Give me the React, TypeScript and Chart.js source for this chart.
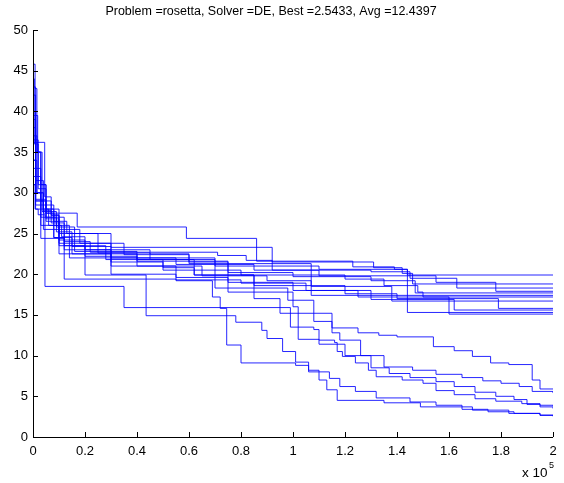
import React, { useEffect, useRef } from "react";
import { Chart, registerables } from "chart.js";

Chart.register(...registerables);

const TITLE = "Problem =rosetta, Solver =DE, Best =2.5433, Avg =12.4397";
const X_TICKS = [0, 0.2, 0.4, 0.6, 0.8, 1, 1.2, 1.4, 1.6, 1.8, 2];
const Y_TICKS = [0, 5, 10, 15, 20, 25, 30, 35, 40, 45, 50];
const X_EXPONENT = "5";

// Best-so-far value per run: [evaluations (x 1e5), objective]
const run01 = [[0, 44], [0.005, 36], [0.02, 31], [0.05, 28], [0.1, 27.5], [0.17, 25.8], [0.59, 24.4], [0.86, 21.6], [1.23, 20.9], [1.39, 20.6], [1.44, 19.9], [2, 19.9]];
const run02 = [[0, 40], [0.01, 32], [0.03, 28.5], [0.08, 26.5], [0.13, 25.0], [0.3, 23.3], [0.92, 21.5], [1.31, 20.8], [1.42, 20.1], [1.46, 18.8], [2, 18.8]];
const run03 = [[0, 37], [0.015, 30], [0.04, 27.8], [0.07, 26.3], [0.12, 24.0], [0.22, 22.7], [0.71, 22.3], [0.82, 21.7], [0.92, 20.5], [1.3, 20.3], [1.45, 19.5], [1.63, 18.3], [2, 18.3]];
const run04 = [[0, 45.8], [0.008, 42.8], [0.015, 35], [0.03, 31], [0.05, 27], [0.09, 25.2], [0.15, 23.4], [0.3, 22.0], [0.55, 21.2], [0.85, 20.5], [1.1, 19.8], [1.55, 19.0], [1.78, 17.9], [2, 17.9]];
const run05 = [[0, 30], [0.01, 28], [0.06, 26], [0.11, 24.6], [0.2, 23.0], [0.45, 22.5], [0.6, 21.5], [0.75, 20.2], [1.0, 19.7], [1.3, 19.2], [1.47, 17.7], [2, 17.7]];
const run06 = [[0, 36.2], [0.045, 29.5], [0.07, 27.2], [0.1, 25.5], [0.18, 23.8], [0.35, 22.4], [0.6, 21.3], [1.07, 17.4], [2, 17.4]];
const run07 = [[0, 39], [0.01, 31.5], [0.04, 28], [0.08, 27], [0.12, 23.5], [0.28, 21.8], [0.5, 20.5], [0.8, 19.9], [1.2, 19.4], [1.35, 18.6], [1.48, 17.8], [1.5, 17.2], [2, 17.2]];
const run08 = [[0, 32], [0.01, 29], [0.05, 26.8], [0.1, 24.2], [0.2, 22.2], [0.4, 21.0], [0.65, 19.8], [0.9, 19.2], [1.07, 18.5], [1.38, 16.7], [2, 16.7]];
const run09 = [[0, 36.5], [0.02, 30.5], [0.05, 27.5], [0.1, 26.0], [0.14, 22.0], [0.3, 21.5], [0.5, 20.8], [0.62, 19.9], [0.85, 18.6], [1.2, 17.6], [1.4, 17.0], [1.79, 15.8], [2, 15.8]];
const run10 = [[0, 34], [0.015, 30], [0.04, 27.5], [0.08, 24.5], [0.12, 19.4], [0.55, 19.3], [0.8, 18.9], [1.05, 18.0], [1.3, 16.9], [1.62, 15.6], [2, 15.6]];
const run11 = [[0, 43], [0.01, 35], [0.03, 29], [0.07, 27.3], [0.1, 25.0], [0.25, 22.6], [0.45, 21.8], [0.7, 21.0], [1.1, 20.6], [1.44, 15.3], [2, 15.3]];
const run12 = [[0, 31], [0.01, 28.5], [0.03, 24.4], [0.12, 23.0], [0.3, 20.0], [0.55, 19.6], [0.75, 19.0], [1.0, 18.0], [1.25, 17.2], [1.6, 15.1], [2, 15.1]];
const run13 = [[0, 31], [0.008, 28], [0.02, 27.3], [0.046, 18.5], [0.35, 15.9], [0.99, 13.5], [1.08, 13.2], [1.1, 11.9], [1.16, 11.6], [1.17, 10.5], [1.19, 9.9], [1.24, 9.1], [1.29, 8.2], [1.32, 7.4], [1.42, 7.0], [1.5, 6.6], [1.55, 5.7], [1.62, 5.2], [1.7, 4.7], [1.78, 4.4], [1.88, 4.1], [1.95, 3.9], [2, 3.8]];
const run14 = [[0, 38], [0.01, 30], [0.03, 26], [0.1, 23.5], [0.2, 19.9], [0.435, 14.9], [0.78, 14.1], [0.88, 13.1], [0.9, 12.1], [0.96, 10.5], [1.01, 9.2], [1.06, 8.0], [1.14, 7.2], [1.18, 6.2], [1.24, 5.6], [1.32, 4.8], [1.45, 4.3], [1.55, 3.9], [1.65, 3.4], [1.75, 3.1], [1.85, 2.9], [1.95, 2.7], [2, 2.6]];
const run15 = [[0, 34], [0.01, 29], [0.04, 25.5], [0.1, 22.5], [0.3, 21.0], [0.55, 19.2], [0.69, 17.2], [0.72, 15.8], [0.745, 11.3], [0.8, 9.1], [1.01, 8.8], [1.06, 8.2], [1.1, 7.0], [1.13, 5.8], [1.17, 4.5], [1.35, 4.2], [1.49, 3.7], [1.69, 3.3], [1.83, 2.9], [1.95, 2.65], [2, 2.54]];
const run16 = [[0, 42], [0.01, 33], [0.03, 27], [0.08, 24.5], [0.15, 22.5], [0.4, 21.8], [0.62, 19.9], [0.85, 17.0], [0.95, 15.2], [1.15, 13.4], [1.25, 12.8], [1.33, 12.5], [1.4, 12.3], [1.54, 11.1], [1.62, 10.6], [1.69, 9.9], [1.76, 9.1], [1.83, 8.9], [1.92, 7.0], [1.95, 5.9], [2, 5.9]];
const run17 = [[0, 33], [0.01, 29.2], [0.05, 26.5], [0.1, 23.8], [0.3, 22.0], [0.7, 18.3], [0.98, 16.8], [1.08, 14.2], [1.15, 12.8], [1.18, 11.9], [1.26, 10.0], [1.35, 8.6], [1.46, 8.2], [1.55, 7.7], [1.65, 7.3], [1.73, 6.9], [1.8, 6.6], [1.87, 6.2], [1.92, 5.6], [2, 5.4]];
const run18 = [[0, 39.5], [0.018, 35], [0.035, 27.7], [0.09, 25.8], [0.16, 22.8], [0.4, 21.6], [0.75, 17.8], [1.0, 16.0], [1.02, 12.0], [1.1, 11.4], [1.2, 10.0], [1.3, 8.5], [1.37, 7.8], [1.45, 7.3], [1.55, 6.8], [1.62, 6.2], [1.7, 5.5], [1.78, 5.0], [1.85, 4.6], [1.9, 4.0], [1.95, 3.7], [2, 3.5]];

const RUNS = [run01, run02, run03, run04, run05, run06, run07, run08, run09, run10, run11, run12, run13, run14, run15, run16, run17, run18];

const FONT = "'Liberation Sans', Arial, Helvetica, sans-serif";

export default function App() {
  const ref = useRef<HTMLCanvasElement | null>(null);
  useEffect(() => {
    const canvas = ref.current;
    if (!canvas) return;
    const axesPlugin = {
      id: "matlabAxes",
      afterDraw(chart: any) {
        const { ctx, chartArea, scales } = chart;
        const xs = scales.x;
        const ys = scales.y;
        ctx.save();
        ctx.strokeStyle = "#000";
        ctx.lineWidth = 1;
        ctx.beginPath();
        ctx.moveTo(chartArea.left + 0.5, chartArea.top);
        ctx.lineTo(chartArea.left + 0.5, chartArea.bottom + 0.5);
        ctx.lineTo(chartArea.right, chartArea.bottom + 0.5);
        ctx.stroke();
        ctx.beginPath();
        for (const v of Y_TICKS) {
          const py = Math.round(ys.getPixelForValue(v)) + 0.5;
          ctx.moveTo(chartArea.left, py);
          ctx.lineTo(chartArea.left + 5, py);
        }
        for (const v of X_TICKS) {
          const px = Math.round(xs.getPixelForValue(v)) + 0.5;
          ctx.moveTo(px, chartArea.bottom);
          ctx.lineTo(px, chartArea.bottom - 5);
        }
        ctx.stroke();
        ctx.fillStyle = "#000";
        ctx.font = `12.5px ${FONT}`;
        ctx.textAlign = "center";
        ctx.textBaseline = "middle";
        ctx.fillText(TITLE, 271, 12);
        ctx.textAlign = "left";
        ctx.textBaseline = "alphabetic";
        ctx.font = `13.5px ${FONT}`;
        ctx.fillText("x 10", 522, 477);
        ctx.font = `9px ${FONT}`;
        ctx.fillText(X_EXPONENT, 549, 468);
        ctx.restore();
      },
    };
    const chart = new Chart(canvas, {
      type: "scatter",
      data: {
        datasets: RUNS.map((r, i) => ({
          label: `run ${i + 1}`,
          data: r.map(([x, y]) => ({ x, y })),
          showLine: true,
          stepped: true,
          borderColor: "rgba(0,0,255,0.85)",
          backgroundColor: "rgba(0,0,255,0.85)",
          borderWidth: 1,
          pointRadius: 0,
          pointHoverRadius: 0,
        })),
      },
      plugins: [axesPlugin],
      options: {
        animation: false,
        responsive: false,
        devicePixelRatio: 1,
        layout: { padding: { left: 0, right: 11, top: 30, bottom: 0 } },
        plugins: { legend: { display: false }, tooltip: { enabled: false }, title: { display: false } },
        scales: {
          x: {
            type: "linear",
            min: 0,
            max: 2,
            afterFit: (s: any) => { s.height = 46; s.paddingLeft = 0; s.paddingRight = 0; },
            afterBuildTicks: (s: any) => { s.ticks = X_TICKS.map((v) => ({ value: v })); },
            grid: { display: false, drawTicks: false },
            border: { display: false },
            ticks: { color: "#000", padding: 7, font: { family: FONT, size: 13 }, maxRotation: 0, autoSkip: false, callback: (v: any) => String(v) },
          },
          y: {
            type: "linear",
            min: 0,
            max: 50,
            afterFit: (s: any) => { s.width = 33; s.paddingTop = 0; s.paddingBottom = 0; },
            afterBuildTicks: (s: any) => { s.ticks = Y_TICKS.map((v) => ({ value: v })); },
            grid: { display: false, drawTicks: false },
            border: { display: false },
            ticks: { color: "#000", padding: 5, font: { family: FONT, size: 13 }, autoSkip: false, callback: (v: any) => String(v) },
          },
        },
      },
    });
    return () => chart.destroy();
  }, []);
  return (
    <div style={{ position: "absolute", left: 0, top: 0, width: 564, height: 483, background: "#fff" }}>
      <canvas ref={ref} width={564} height={483} style={{ display: "block" }} />
    </div>
  );
}
